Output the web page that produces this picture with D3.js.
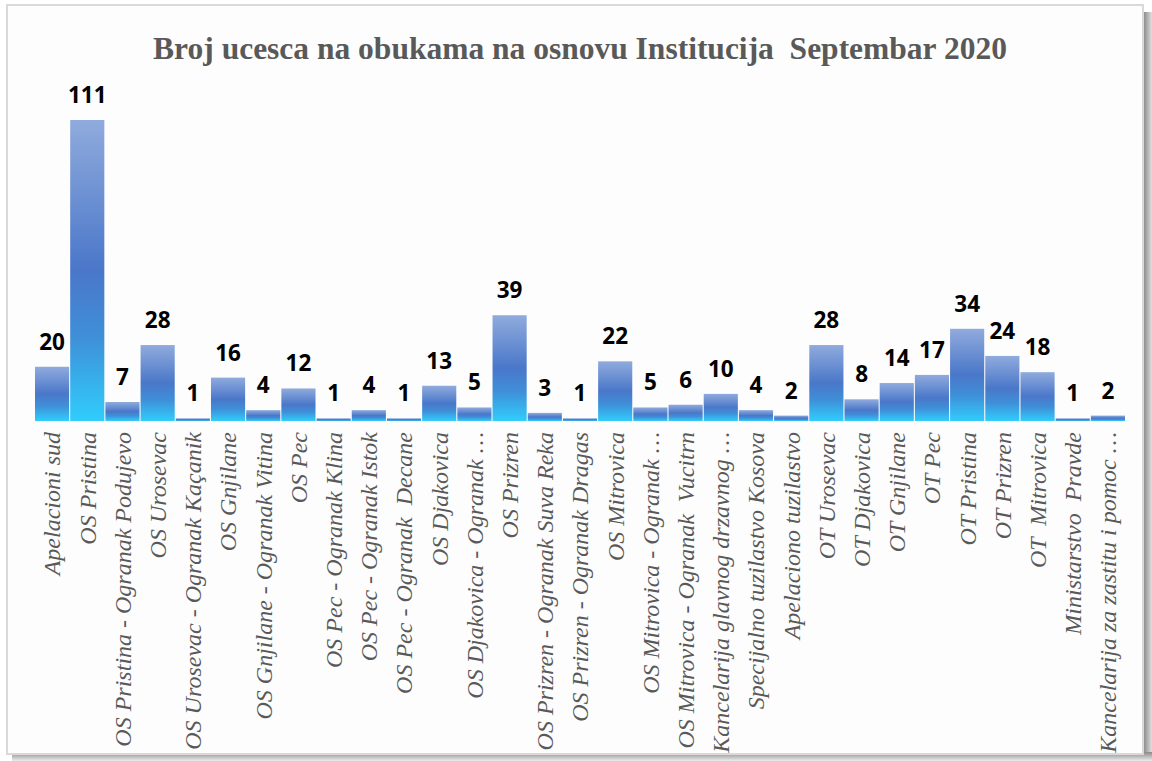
<!DOCTYPE html>
<html><head><meta charset="utf-8">
<script src="https://cdn.jsdelivr.net/npm/d3@7"></script>
<style>html,body{margin:0;padding:0;background:#fff;}svg{display:block;}</style>
</head><body>
<script>
const categories = ["Apelacioni sud","OS Pristina","OS Pristina - Ogranak Podujevo","OS Urosevac","OS Urosevac - Ogranak Kaçanik","OS Gnjilane","OS Gnjilane - Ogranak Vitina","OS Pec","OS Pec - Ogranak Klina","OS Pec - Ogranak Istok","OS Pec - Ogranak  Decane","OS Djakovica","OS Djakovica - Ogranak …","OS Prizren","OS Prizren - Ogranak Suva Reka","OS Prizren - Ogranak Dragas","OS Mitrovica","OS Mitrovica - Ogranak …","OS Mitrovica - Ogranak  Vucitrn","Kancelarija glavnog drzavnog …","Specijalno tuzilastvo Kosova","Apelaciono tuzilastvo","OT Urosevac","OT Djakovica","OT Gnjilane","OT Pec","OT Pristina","OT Prizren","OT  Mitrovica","Ministarstvo  Pravde","Kancelarija za zastitu i pomoc …"];
const values = [20,111,7,28,1,16,4,12,1,4,1,13,5,39,3,1,22,5,6,10,4,2,28,8,14,17,34,24,18,1,2];
const title = "Broj ucesca na obukama na osnovu Institucija  Septembar 2020";

const W = 1152, H = 761;
const svg = d3.select("body").append("svg").attr("width", W).attr("height", H);
const defs = svg.append("defs");
const g = defs.append("linearGradient").attr("id","barGrad").attr("x1",0).attr("y1",0).attr("x2",0).attr("y2",1);
[[0,"#90abdd"],[0.5,"#4a77c9"],[0.72,"#3f8fd8"],[1,"#30cdfd"]].forEach(([o,c])=>g.append("stop").attr("offset",o).attr("stop-color",c));
const sh = defs.append("linearGradient").attr("id","shR").attr("x1",0).attr("x2",1);
sh.append("stop").attr("offset",0).attr("stop-color","#6e6e6e");
sh.append("stop").attr("offset",1).attr("stop-color","#e0e0e0");
const shB = defs.append("linearGradient").attr("id","shB").attr("x1",0).attr("x2",0).attr("y1",0).attr("y2",1);
shB.append("stop").attr("offset",0).attr("stop-color","#8a8a8a");
shB.append("stop").attr("offset",1).attr("stop-color","#ececec");

// frame shadows
svg.append("rect").attr("x",1141).attr("y",12).attr("width",11).attr("height",749).attr("fill","url(#shR)");
svg.append("rect").attr("x",12).attr("y",752).attr("width",1140).attr("height",9).attr("fill","url(#shB)");
svg.append("rect").attr("x",7).attr("y",5).attr("width",1136).attr("height",749)
  .attr("fill","#fdfdfd").attr("stroke","#d9d9d9").attr("stroke-width",2);

const x = d3.scaleBand().domain(categories).range([35,1125]).paddingInner(0.03).paddingOuter(0.0);
const y = d3.scaleLinear().domain([0,111]).range([421,120]);

svg.append("text").attr("x",580).attr("y",59).attr("text-anchor","middle").style("white-space","pre")
  .attr("font-family","'Liberation Serif', 'Times New Roman', serif").attr("font-weight","bold")
  .attr("font-size",31.5).attr("fill","#595959").text(title);

svg.append("g").selectAll("rect").data(values).join("rect")
  .attr("x",(d,i)=>x(categories[i])).attr("width",x.bandwidth())
  .attr("y",d=>y(d)).attr("height",d=>y(0)-y(d)).attr("fill","url(#barGrad)");

svg.append("g").selectAll("text").data(values).join("text")
  .attr("x",(d,i)=>x(categories[i])+x.bandwidth()/2).attr("y",d=>y(d)-17)
  .attr("text-anchor","middle").attr("font-family","'Open Sans', sans-serif").attr("font-weight","bold")
  .attr("font-size",22.5).attr("fill","#000").text(d=>d);

const ax = svg.append("g").attr("transform","translate(0,421)").call(d3.axisBottom(x).tickSize(0).tickPadding(0));
ax.select(".domain").attr("stroke","none");
ax.selectAll("text").attr("transform","rotate(-90)").attr("x",-11).attr("y",0).attr("dy","0.35em")
  .style("white-space","pre")
  .attr("text-anchor","end").attr("font-family","'Liberation Serif', 'Times New Roman', serif")
  .attr("font-style","italic").attr("font-size",24).attr("fill","#595959");
</script>
</body></html>
